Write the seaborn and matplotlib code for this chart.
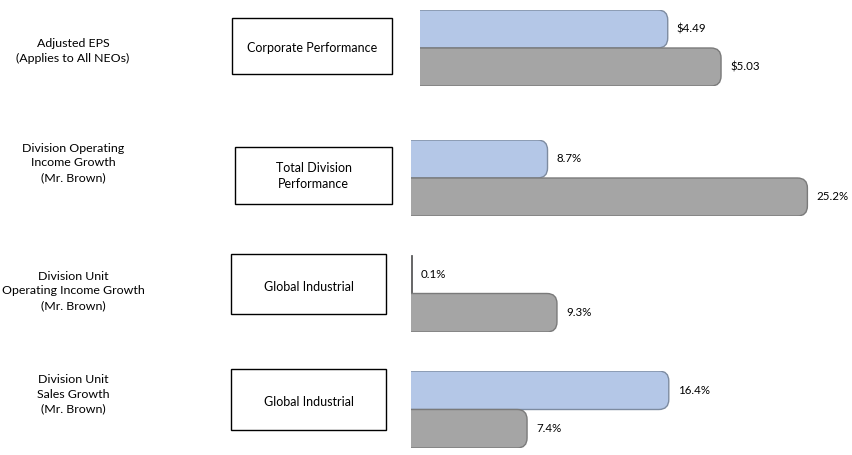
import matplotlib
matplotlib.use("Agg")
import matplotlib.pyplot as plt
import seaborn as sns
import pandas as pd
from matplotlib.patches import Rectangle, FancyBboxPatch
from matplotlib.transforms import IdentityTransform

sns.set_theme(style="white")
plt.rcParams['font.family'] = ['Lato', 'DejaVu Sans']

# ---- data ----
metrics = ["Adjusted EPS\n(Applies to All NEOs)",
           "Division Operating\nIncome Growth\n(Mr. Brown)",
           "Division Unit\nOperating Income Growth\n(Mr. Brown)",
           "Division Unit\nSales Growth\n(Mr. Brown)"]
levels = ["Corporate Performance",
          "Total Division\nPerformance",
          "Global Industrial",
          "Global Industrial"]
target_values = [4.49, 8.7, 0.1, 16.4]
actual_values = [5.03, 25.2, 9.3, 7.4]
value_labels_target = ["$4.49", "8.7%", "0.1%", "16.4%"]
value_labels_actual = ["$5.03", "25.2%", "9.3%", "7.4%"]
series = ["Target", "Actual"]
colors = {"Target": "#b4c7e7", "Actual": "#a5a5a5"}
edges = {"Target": "#7d8ba0", "Actual": "#7a7a7a"}

W, H = 852, 455
fig = plt.figure(figsize=(W / 100, H / 100), dpi=100)

# background axes in pixel coordinates for labels and boxes
bg = fig.add_axes([0, 0, 1, 1])
bg.set_xlim(0, W)
bg.set_ylim(H, 0)
bg.axis("off")

label_y = [51, 163, 291, 394]
box_rects = [(232, 18, 160, 56), (235, 147, 157, 57), (231, 254, 155, 60), (231, 369, 155, 61)]
box_text_y = [48, 176, 287, 402]
for lab, ly in zip(metrics, label_y):
    bg.text(73, ly, lab, ha="center", va="center", fontsize=8.9, color="#000000",
            linespacing=1.38)
for lvl, (bx, by, bw, bh), ty in zip(levels, box_rects, box_text_y):
    bg.add_patch(Rectangle((bx, by), bw, bh, facecolor="white", edgecolor="black", lw=1.0))
    bg.text(bx + bw / 2, ty, lvl, ha="center", va="center", fontsize=9.0,
            color="#000000", linespacing=1.38)

# bar axes: (left px, top px, bottom px, xmin, px per unit)
layouts = [(420, 10, 86, 1.98, 98.7),
           (410.5, 140, 216, 0.0, 15.75),
           (410.5, 255, 332, 0.0, 15.75),
           (410.5, 371, 448, 0.0, 15.75)]

radius = 10
for i, (lx, top, bot, xmin, scale) in enumerate(layouts):
    ax = fig.add_axes([lx / W, 1 - bot / H, (W - lx) / W, (bot - top) / H])
    df = pd.DataFrame({"series": series,
                       "value": [target_values[i], actual_values[i]]})
    sns.barplot(data=df, x="value", y="series", hue="series", palette=colors,
                width=1.0, ax=ax, legend=False, orient="h")
    ax.set_xlim(xmin, xmin + (W - lx) / scale)
    ax.set_ylim(1.5, -0.5)
    ax.axis("off")
    fig.canvas.draw()
    for patch, s, lab in zip(ax.patches, series,
                             [value_labels_target[i], value_labels_actual[i]]):
        x0, y0 = patch.get_x(), patch.get_y()
        w, h = patch.get_width(), patch.get_height()
        (dx0, dy0) = ax.transData.transform((max(x0, xmin), y0))
        (dx1, dy1) = ax.transData.transform((x0 + w, y0 + h))
        left, right = min(dx0, dx1), max(dx0, dx1)
        bottom, topd = min(dy0, dy1), max(dy0, dy1)
        bw = right - left
        if bw > 2 * radius:
            patch.set_visible(False)
            fb = FancyBboxPatch((left - radius - 2, bottom), bw + radius + 2, topd - bottom,
                                boxstyle=f"round,pad=0,rounding_size={radius}",
                                transform=IdentityTransform(), facecolor=colors[s],
                                edgecolor=edges[s], lw=1.0, zorder=3)
            fb.set_clip_path(ax.patch)
            ax.add_artist(fb)
        else:
            patch.set_edgecolor("#666666")
            patch.set_linewidth(0.7)
        ax.annotate(lab, xy=(x0 + w, y0 + h / 2), xytext=(9, 0),
                    textcoords="offset pixels", ha="left", va="center",
                    fontsize=8.3, color="#000000", annotation_clip=False)

fig.savefig("out.png", dpi=100)
